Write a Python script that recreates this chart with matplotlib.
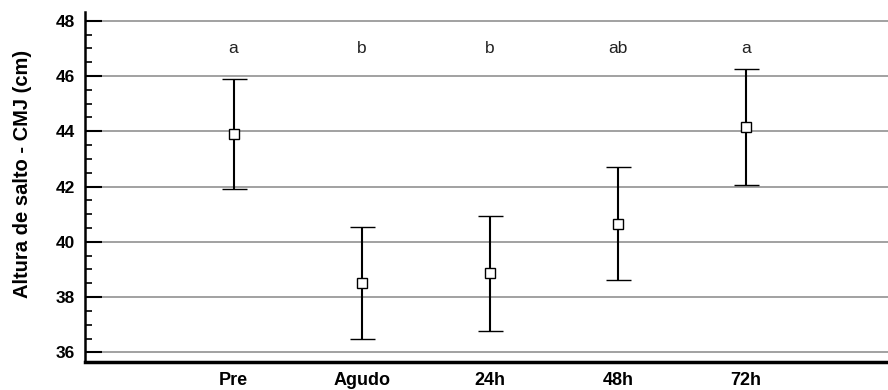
import numpy as np
import matplotlib
matplotlib.use("Agg")
import matplotlib.pyplot as plt
from matplotlib.ticker import MultipleLocator

plt.rcParams['font.family'] = ['Liberation Sans', 'DejaVu Sans']

# Jump height (CMJ) per time point
grupos = ['Pre', 'Agudo', '24h', '48h', '72h']
media = [43.9, 38.5, 38.86, 40.66, 44.16]
erro = [2.0, 2.02, 2.08, 2.06, 2.1]
letras = ['a', 'b', 'b', 'ab', 'a']

fig = plt.figure(figsize=(8.88, 3.9), dpi=100)
ax = fig.add_axes([0.0957, 0.0718, 0.9043, 0.897])

x = np.arange(len(grupos))
ax.errorbar(x, media, yerr=erro, fmt='s', color='black', mfc='white', mec='black',
            markersize=7.5, mew=1.0, ecolor='black', elinewidth=1.5, capsize=9,
            capthick=1.5, zorder=3)

for xi, l in zip(x, letras):
    ax.text(xi, 47.0, l, ha='center', va='center', fontsize=12.5, color='#222222')

ax.set_xlim(-1.16, 5.11)
ax.set_ylim(35.65, 48.31)
ax.yaxis.set_major_locator(MultipleLocator(2))
ax.yaxis.set_minor_locator(MultipleLocator(0.5))
ax.set_xticks(x)
ax.set_xticklabels(grupos, fontweight='bold', fontsize=13)
ax.tick_params(axis='x', length=0, pad=7)
ax.tick_params(axis='y', which='major', direction='in', length=12, width=1.5, labelsize=12.5, pad=7)
ax.tick_params(axis='y', which='minor', direction='in', length=5, width=1.2)
for lab in ax.get_yticklabels():
    lab.set_fontweight('bold')

ax.grid(axis='y', which='major', color='#9a9a9a', linewidth=1.3, zorder=0)
ax.set_axisbelow(True)
ax.spines['top'].set_visible(False)
ax.spines['right'].set_visible(False)
ax.spines['left'].set_linewidth(1.8)
ax.spines['bottom'].set_linewidth(2.5)

ax.set_ylabel('Altura de salto - CMJ (cm)', fontweight='bold', fontsize=14.5)
ax.yaxis.set_label_coords(-0.066, 0.539)

fig.savefig('out.png', dpi=100)
